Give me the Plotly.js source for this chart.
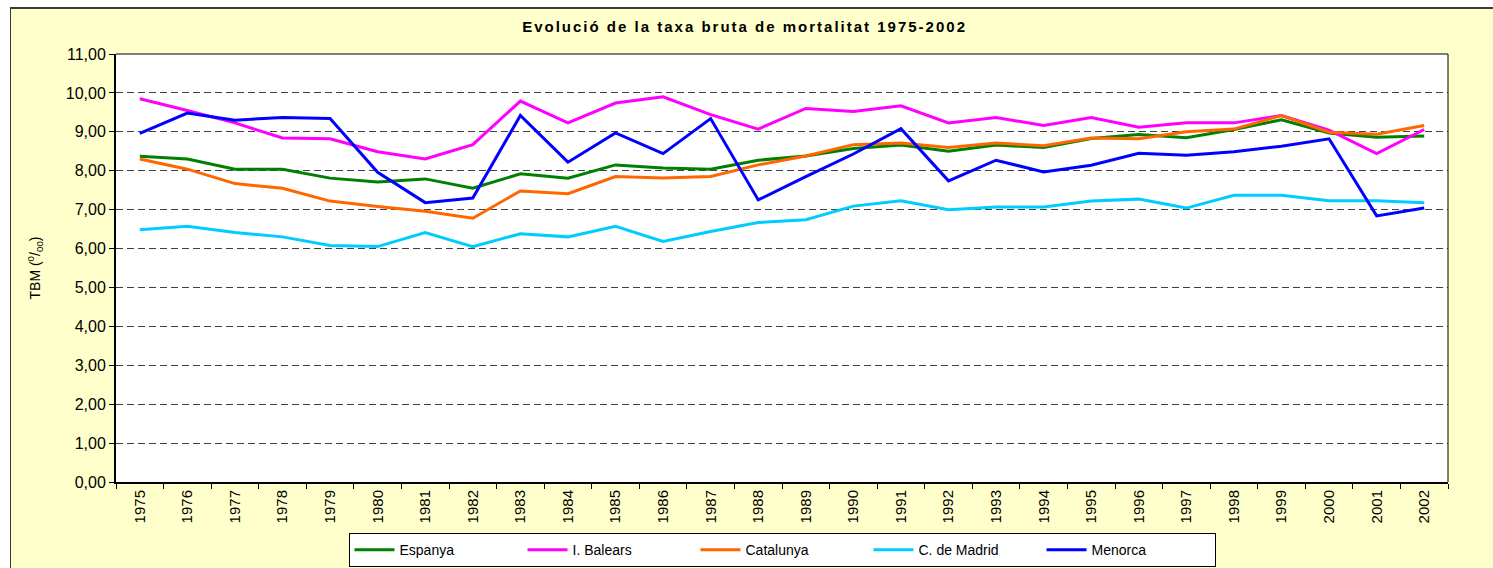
<!DOCTYPE html>
<html>
<head>
<meta charset="utf-8">
<script src="https://cdn.plot.ly/plotly-3.0.1.min.js"></script>
<style>
  html, body { margin: 0; padding: 0; background: #ffffff; }
  #frame { position: absolute; left: 10px; top: 7px; width: 1483px; height: 561px;
           border-top: 2px solid #3a3a3a; border-left: 1px solid #3a3a3a; background: #FFFFCC; overflow: hidden; }
  #chart { width: 1482px; height: 559px; }
  .gtitle { letter-spacing: 2px; }
</style>
</head>
<body>
<div id="frame"><div id="chart"></div></div>
<script>
const years = ['1975','1976','1977','1978','1979','1980','1981','1982','1983','1984','1985','1986','1987','1988',
               '1989','1990','1991','1992','1993','1994','1995','1996','1997','1998','1999','2000','2001','2002'];
const espanya   = [8.37,8.30,8.04,8.04,7.81,7.71,7.79,7.55,7.92,7.81,8.15,8.07,8.04,8.27,8.38,8.57,8.66,8.50,8.66,8.60,8.83,8.93,8.85,9.06,9.31,8.97,8.86,8.89];
const balears   = [9.85,9.55,9.23,8.84,8.82,8.49,8.30,8.67,9.79,9.23,9.74,9.90,9.44,9.07,9.60,9.52,9.67,9.23,9.37,9.16,9.37,9.12,9.23,9.23,9.42,9.04,8.44,9.06];
const catalunya = [8.30,8.04,7.67,7.55,7.22,7.08,6.96,6.78,7.48,7.41,7.85,7.81,7.85,8.15,8.38,8.67,8.71,8.60,8.71,8.64,8.84,8.82,9.00,9.07,9.42,8.99,8.94,9.16];
const madrid    = [6.48,6.57,6.41,6.30,6.08,6.05,6.41,6.05,6.38,6.30,6.57,6.18,6.44,6.67,6.74,7.09,7.23,7.00,7.07,7.07,7.22,7.27,7.04,7.37,7.37,7.23,7.23,7.18];
const menorca   = [8.96,9.48,9.30,9.37,9.34,7.96,7.18,7.30,9.42,8.22,8.97,8.44,9.34,7.25,7.85,8.43,9.08,7.74,8.27,7.97,8.14,8.45,8.40,8.49,8.63,8.82,6.84,7.04];
const seriesNames = ['Espanya','I. Balears','Catalunya','C. de Madrid','Menorca'];
const seriesColors = ['#008000','#FF00FF','#FF6600','#00CCFF','#0000FF'];
const seriesData = [espanya, balears, catalunya, madrid, menorca];

const traces = seriesData.map((vals, i) => ({
  type: 'scatter', mode: 'lines', x: years, y: vals, name: seriesNames[i],
  line: { color: seriesColors[i], width: 3 }, hoverinfo: 'skip'
}));

const font = 'Liberation Sans, Arial, sans-serif';
const layout = {
  width: 1482, height: 559,
  paper_bgcolor: '#FFFFCC', plot_bgcolor: '#FFFFFF',
  margin: { l: 105, r: 45, t: 45, b: 86, autoexpand: false },
  separators: ',.',
  font: { family: font, color: '#000000' },
  title: { text: 'Evolució de la taxa bruta de mortalitat 1975-2002', xref: 'container', x: 0.495, xanchor: 'center',
           yref: 'container', y: 0.968, yanchor: 'middle', font: { family: font, size: 15, color: '#000', weight: 'bold' } },
  xaxis: {
    type: 'category', range: [-0.5, 27.5], tickangle: -90, tickson: 'boundaries', automargin: false,
    ticks: 'outside', ticklen: 5, tickcolor: '#000', showline: true, linecolor: '#000', linewidth: 2,
    showgrid: false, zeroline: false, tickfont: { family: font, size: 15, color: '#000' }
  },
  yaxis: {
    range: [0, 11], dtick: 1, tick0: 0, tickformat: '.2f', ticks: 'outside', ticklen: 5, tickcolor: '#000',
    showline: true, linecolor: '#000', linewidth: 2, zeroline: false, automargin: false,
    showgrid: true, gridcolor: '#404040', gridwidth: 1, griddash: '7px,4px',
    tickfont: { family: font, size: 16, color: '#000' },
    title: { text: 'TBM (<sup>0</sup>/<sub>00</sub>)', standoff: 22, font: { family: font, size: 14, color: '#000' } }
  },
  shapes: [
    { type: 'line', xref: 'paper', yref: 'paper', x0: 0, x1: 1, y0: 1, y1: 1, line: { color: '#000', width: 1 } },
    { type: 'line', xref: 'paper', yref: 'paper', x0: 1, x1: 1, y0: 0, y1: 1, line: { color: '#000', width: 1 } }
  ],
  showlegend: true,
  legend: {
    orientation: 'h', x: 0.5, xanchor: 'center', yref: 'container', y: 0.0625, yanchor: 'top',
    bgcolor: '#FFFFFF', bordercolor: '#000', borderwidth: 1,
    entrywidth: 118, entrywidthmode: 'pixels', itemwidth: 40,
    font: { family: font, size: 14, color: '#000' }, traceorder: 'normal'
  }
};

Plotly.newPlot('chart', traces, layout, { staticPlot: true, displayModeBar: false });
</script>
</body>
</html>
